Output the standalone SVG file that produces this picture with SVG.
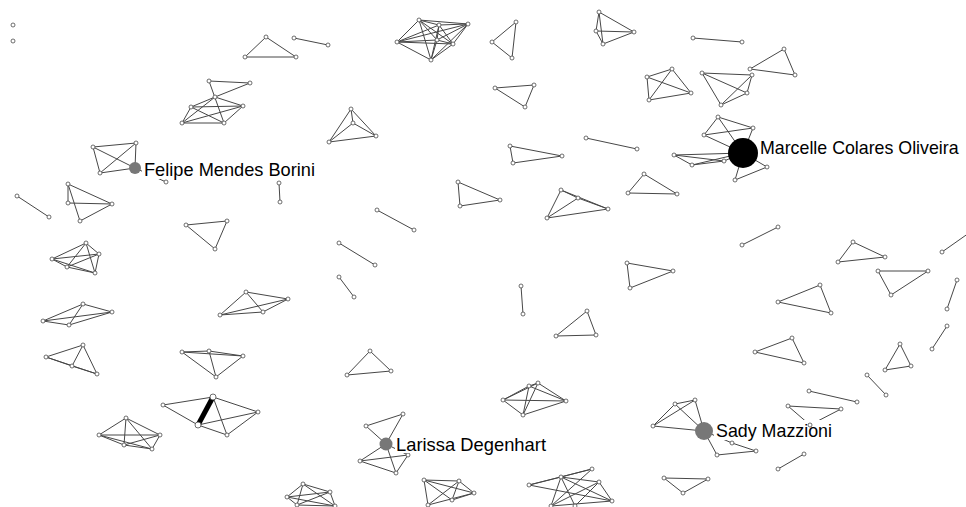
<svg xmlns="http://www.w3.org/2000/svg" width="966" height="507" viewBox="0 0 966 507">
<style>
.bg{fill:#fff}
#edges path{fill:none;stroke:#474747;stroke-width:1}
#edges .thick{stroke:#000;stroke-width:5}
.n circle{fill:#fff;stroke:#4a4a4a;stroke-width:0.8}
.big circle{stroke:none}
.lbl{font-family:"Liberation Sans",Arial,sans-serif;font-size:19px;fill:#000}
.box{fill:#fff}
</style>
<rect class="bg" x="0" y="0" width="966" height="507"/>
<g id="edges">
<path d="M209,81L250,83 M209,81L224,123 M215,97L250,83 M215,97L191,107 M215,97L182,123 M215,97L243,106 M191,107L243,106 M191,107L224,123 M182,123L243,106 M182,123L224,123 M224,123L243,106 M191,107L182,123"/>
<path d="M93,147L136,143 M93,147L135,168 M93,147L100,173 M136,143L100,173 M136,143L135,168 M100,173L135,168 M135,168L166,182"/>
<path d="M266,37L245,57L296,57Z M294,38L328,45"/>
<path d="M419,20L439,25 M419,20L468,24 M419,20L397,42 M419,20L453,44 M419,20L431,60 M419,20L437,40 M439,25L468,24 M439,25L397,42 M439,25L453,44 M439,25L431,60 M439,25L437,40 M468,24L397,42 M468,24L453,44 M468,24L431,60 M468,24L437,40 M397,42L453,44 M397,42L431,60 M397,42L437,40 M453,44L431,60 M453,44L437,40 M431,60L437,40"/>
<path d="M351,109L353,123 M351,109L329,142 M351,109L376,136 M353,123L329,142 M353,123L376,136 M329,142L376,136"/>
<path d="M516,22L492,42L512,58Z"/>
<path d="M599,12L596,31 M599,12L603,44 M599,12L634,32 M596,31L603,44 M596,31L634,32 M603,44L634,32"/>
<path d="M693,38L742,42"/>
<path d="M495,88L534,85L525,107Z"/>
<path d="M647,77L672,69 M647,77L691,93 M647,77L649,100 M672,69L691,93 M672,69L649,100 M691,93L649,100"/>
<path d="M702,73L752,75 M702,73L747,93 M702,73L721,105 M752,75L747,93 M752,75L721,105 M747,93L721,105"/>
<path d="M784,49L750,69L795,75Z"/>
<path d="M510,146L513,163L562,156Z M586,138L637,149"/>
<path d="M718,117L704,135 M718,117L753,128 M704,135L753,128 M704,135L743,153 M718,117L743,153 M753,128L743,153 M674,155L743,153 M674,155L724,161 M692,165L743,153 M692,165L724,161 M674,155L692,165 M767,167L743,153 M735,180L743,153 M735,180L767,167 M724,161L743,153"/>
<path d="M279,183L280,202 M17,196L49,217"/>
<path d="M68,184L112,204 M68,184L68,203 M68,184L80,221 M68,203L112,204 M80,221L112,204"/>
<path d="M186,225L227,221L215,249Z"/>
<path d="M86,243L52,259 M86,243L99,254 M86,243L67,267 M86,243L95,273 M52,259L99,254 M52,259L67,267 M52,259L95,273 M99,254L67,267 M99,254L95,273 M67,267L95,273"/>
<path d="M83,304L43,321 M83,304L112,312 M83,304L69,325 M43,321L112,312 M43,321L69,325 M112,312L69,325"/>
<path d="M220,315L246,292 M220,315L288,299 M220,315L263,312 M246,292L288,299 M246,292L263,312 M288,299L263,312"/>
<path d="M458,182L460,206L500,200Z M377,210L414,230 M339,243L375,265 M339,277L354,297"/>
<path d="M561,190L578,198 M561,190L608,209 M561,190L547,218 M578,198L608,209 M578,198L547,218 M608,209L547,218"/>
<path d="M644,174L628,193L677,194Z M627,263L673,271L630,288Z M521,286L523,314 M587,311L556,336L596,335Z"/>
<path d="M742,245L778,227 M853,242L838,262L885,257Z M878,271L928,271L891,295Z M942,252L969,233 M957,280L947,309 M820,285L778,302L831,313Z M947,326L932,349 M792,338L755,352L804,363Z M900,344L885,370L911,366Z M867,375L886,395 M809,391L857,402 M788,406L841,409 M788,406L810,425 M841,409L810,425 M804,454L778,469"/>
<path d="M83,345L46,357 M83,345L72,366 M83,345L97,374 M46,357L72,366 M72,366L97,374 M46,357L97,374"/>
<path d="M182,352L209,351 M182,352L243,356 M182,352L216,377 M209,351L243,356 M209,351L216,377 M243,356L216,377"/>
<path d="M163,405L213,397 M163,405L198,425 M213,397L258,412 M213,397L227,435 M198,425L258,412 M198,425L227,435 M227,435L258,412"/>
<path class="thick" d="M213,397L198,425"/>
<path d="M126,418L99,435 M126,418L160,435 M126,418L124,445 M126,418L152,449 M99,435L160,435 M99,435L124,445 M99,435L152,449 M160,435L124,445 M160,435L152,449 M124,445L152,449"/>
<path d="M370,351L347,375L391,371Z"/>
<path d="M366,426L403,414 M366,426L386,444 M403,414L386,444 M386,444L360,461 M386,444L408,455 M386,444L396,473 M360,461L408,455 M360,461L396,473 M408,455L396,473"/>
<path d="M303,484L287,497 M303,484L330,492 M303,484L335,506 M303,484L297,505 M287,497L330,492 M287,497L335,506 M287,497L297,505 M330,492L335,506 M330,492L297,505 M335,506L297,505"/>
<path d="M424,480L459,481 M424,480L474,493 M424,480L428,505 M424,480L452,500 M459,481L474,493 M459,481L428,505 M474,493L428,505 M452,500L474,493 M459,481L452,500"/>
<path d="M503,400L566,401 M503,400L529,386 M503,400L538,383 M529,386L566,401 M538,383L566,401 M538,383L523,415 M529,386L523,415 M503,400L523,415 M523,415L566,401 M529,386L538,383"/>
<path d="M529,485L561,477 M529,485L592,469 M529,485L612,501 M561,477L592,469 M561,477L599,482 M561,477L612,501 M561,477L551,506 M561,477L575,506 M592,469L551,506 M599,482L551,506 M599,482L575,506 M599,482L612,501 M551,506L612,501"/>
<path d="M695,400L675,404 M695,400L704,431 M675,404L704,431 M675,404L653,426 M653,426L704,431 M695,400L653,426 M704,431L717,455 M704,431L732,443 M732,443L756,451 M717,455L756,451"/>
<path d="M664,478L708,479L683,493Z"/>
</g>
<g class="n">
<g id="n1"><circle cx="13" cy="25" r="2"/></g>
<g id="n2"><circle cx="13" cy="41" r="2"/></g>
<g id="n3"><circle cx="209" cy="81" r="2"/></g>
<g id="n4"><circle cx="250" cy="83" r="2"/></g>
<g id="n5"><circle cx="215" cy="97" r="2"/></g>
<g id="n6"><circle cx="191" cy="107" r="2"/></g>
<g id="n7"><circle cx="243" cy="106" r="2"/></g>
<g id="n8"><circle cx="182" cy="123" r="2"/></g>
<g id="n9"><circle cx="224" cy="123" r="2"/></g>
<g id="n10"><circle cx="93" cy="147" r="2"/></g>
<g id="n11"><circle cx="136" cy="143" r="2"/></g>
<g id="n12"><circle cx="100" cy="173" r="2"/></g>
<g id="n13"><circle cx="166" cy="182" r="2"/></g>
<g id="n14"><circle cx="266" cy="37" r="2"/></g>
<g id="n15"><circle cx="245" cy="57" r="2"/></g>
<g id="n16"><circle cx="296" cy="57" r="2"/></g>
<g id="n17"><circle cx="294" cy="38" r="2"/></g>
<g id="n18"><circle cx="328" cy="45" r="2"/></g>
<g id="n19"><circle cx="419" cy="20" r="2"/></g>
<g id="n20"><circle cx="439" cy="25" r="2"/></g>
<g id="n21"><circle cx="468" cy="24" r="2"/></g>
<g id="n22"><circle cx="397" cy="42" r="2"/></g>
<g id="n23"><circle cx="453" cy="44" r="2"/></g>
<g id="n24"><circle cx="431" cy="60" r="2"/></g>
<g id="n25"><circle cx="437" cy="40" r="2"/></g>
<g id="n26"><circle cx="351" cy="109" r="2"/></g>
<g id="n27"><circle cx="353" cy="123" r="2"/></g>
<g id="n28"><circle cx="329" cy="142" r="2"/></g>
<g id="n29"><circle cx="376" cy="136" r="2"/></g>
<g id="n30"><circle cx="516" cy="22" r="2"/></g>
<g id="n31"><circle cx="492" cy="42" r="2"/></g>
<g id="n32"><circle cx="512" cy="58" r="2"/></g>
<g id="n33"><circle cx="599" cy="12" r="2"/></g>
<g id="n34"><circle cx="596" cy="31" r="2"/></g>
<g id="n35"><circle cx="603" cy="44" r="2"/></g>
<g id="n36"><circle cx="634" cy="32" r="2"/></g>
<g id="n37"><circle cx="693" cy="38" r="2"/></g>
<g id="n38"><circle cx="742" cy="42" r="2"/></g>
<g id="n39"><circle cx="495" cy="88" r="2"/></g>
<g id="n40"><circle cx="534" cy="85" r="2"/></g>
<g id="n41"><circle cx="525" cy="107" r="2"/></g>
<g id="n42"><circle cx="647" cy="77" r="2"/></g>
<g id="n43"><circle cx="672" cy="69" r="2"/></g>
<g id="n44"><circle cx="691" cy="93" r="2"/></g>
<g id="n45"><circle cx="649" cy="100" r="2"/></g>
<g id="n46"><circle cx="702" cy="73" r="2"/></g>
<g id="n47"><circle cx="752" cy="75" r="2"/></g>
<g id="n48"><circle cx="747" cy="93" r="2"/></g>
<g id="n49"><circle cx="721" cy="105" r="2"/></g>
<g id="n50"><circle cx="784" cy="49" r="2"/></g>
<g id="n51"><circle cx="750" cy="69" r="2"/></g>
<g id="n52"><circle cx="795" cy="75" r="2"/></g>
<g id="n53"><circle cx="510" cy="146" r="2"/></g>
<g id="n54"><circle cx="513" cy="163" r="2"/></g>
<g id="n55"><circle cx="562" cy="156" r="2"/></g>
<g id="n56"><circle cx="586" cy="138" r="2"/></g>
<g id="n57"><circle cx="637" cy="149" r="2"/></g>
<g id="n58"><circle cx="718" cy="117" r="2"/></g>
<g id="n59"><circle cx="704" cy="135" r="2"/></g>
<g id="n60"><circle cx="753" cy="128" r="2"/></g>
<g id="n61"><circle cx="674" cy="155" r="2"/></g>
<g id="n62"><circle cx="692" cy="165" r="2"/></g>
<g id="n63"><circle cx="724" cy="161" r="2"/></g>
<g id="n64"><circle cx="767" cy="167" r="2"/></g>
<g id="n65"><circle cx="735" cy="180" r="2"/></g>
<g id="n66"><circle cx="279" cy="183" r="2"/></g>
<g id="n67"><circle cx="280" cy="202" r="2"/></g>
<g id="n68"><circle cx="17" cy="196" r="2"/></g>
<g id="n69"><circle cx="49" cy="217" r="2"/></g>
<g id="n70"><circle cx="68" cy="184" r="2"/></g>
<g id="n71"><circle cx="68" cy="203" r="2"/></g>
<g id="n72"><circle cx="112" cy="204" r="2"/></g>
<g id="n73"><circle cx="80" cy="221" r="2"/></g>
<g id="n74"><circle cx="186" cy="225" r="2"/></g>
<g id="n75"><circle cx="227" cy="221" r="2"/></g>
<g id="n76"><circle cx="215" cy="249" r="2"/></g>
<g id="n77"><circle cx="86" cy="243" r="2"/></g>
<g id="n78"><circle cx="52" cy="259" r="2"/></g>
<g id="n79"><circle cx="99" cy="254" r="2"/></g>
<g id="n80"><circle cx="67" cy="267" r="2"/></g>
<g id="n81"><circle cx="95" cy="273" r="2"/></g>
<g id="n82"><circle cx="83" cy="304" r="2"/></g>
<g id="n83"><circle cx="43" cy="321" r="2"/></g>
<g id="n84"><circle cx="112" cy="312" r="2"/></g>
<g id="n85"><circle cx="69" cy="325" r="2"/></g>
<g id="n86"><circle cx="220" cy="315" r="2"/></g>
<g id="n87"><circle cx="246" cy="292" r="2"/></g>
<g id="n88"><circle cx="288" cy="299" r="2"/></g>
<g id="n89"><circle cx="263" cy="312" r="2"/></g>
<g id="n90"><circle cx="458" cy="182" r="2"/></g>
<g id="n91"><circle cx="460" cy="206" r="2"/></g>
<g id="n92"><circle cx="500" cy="200" r="2"/></g>
<g id="n93"><circle cx="377" cy="210" r="2"/></g>
<g id="n94"><circle cx="414" cy="230" r="2"/></g>
<g id="n95"><circle cx="339" cy="243" r="2"/></g>
<g id="n96"><circle cx="375" cy="265" r="2"/></g>
<g id="n97"><circle cx="339" cy="277" r="2"/></g>
<g id="n98"><circle cx="354" cy="297" r="2"/></g>
<g id="n99"><circle cx="561" cy="190" r="2"/></g>
<g id="n100"><circle cx="578" cy="198" r="2"/></g>
<g id="n101"><circle cx="608" cy="209" r="2"/></g>
<g id="n102"><circle cx="547" cy="218" r="2"/></g>
<g id="n103"><circle cx="644" cy="174" r="2"/></g>
<g id="n104"><circle cx="628" cy="193" r="2"/></g>
<g id="n105"><circle cx="677" cy="194" r="2"/></g>
<g id="n106"><circle cx="627" cy="263" r="2"/></g>
<g id="n107"><circle cx="673" cy="271" r="2"/></g>
<g id="n108"><circle cx="630" cy="288" r="2"/></g>
<g id="n109"><circle cx="521" cy="286" r="2"/></g>
<g id="n110"><circle cx="523" cy="314" r="2"/></g>
<g id="n111"><circle cx="587" cy="311" r="2"/></g>
<g id="n112"><circle cx="556" cy="336" r="2"/></g>
<g id="n113"><circle cx="596" cy="335" r="2"/></g>
<g id="n114"><circle cx="742" cy="245" r="2"/></g>
<g id="n115"><circle cx="778" cy="227" r="2"/></g>
<g id="n116"><circle cx="853" cy="242" r="2"/></g>
<g id="n117"><circle cx="838" cy="262" r="2"/></g>
<g id="n118"><circle cx="885" cy="257" r="2"/></g>
<g id="n119"><circle cx="878" cy="271" r="2"/></g>
<g id="n120"><circle cx="928" cy="271" r="2"/></g>
<g id="n121"><circle cx="891" cy="295" r="2"/></g>
<g id="n122"><circle cx="942" cy="252" r="2"/></g>
<g id="n123"><circle cx="957" cy="280" r="2"/></g>
<g id="n124"><circle cx="947" cy="309" r="2"/></g>
<g id="n125"><circle cx="820" cy="285" r="2"/></g>
<g id="n126"><circle cx="778" cy="302" r="2"/></g>
<g id="n127"><circle cx="831" cy="313" r="2"/></g>
<g id="n128"><circle cx="947" cy="326" r="2"/></g>
<g id="n129"><circle cx="932" cy="349" r="2"/></g>
<g id="n130"><circle cx="792" cy="338" r="2"/></g>
<g id="n131"><circle cx="755" cy="352" r="2"/></g>
<g id="n132"><circle cx="804" cy="363" r="2"/></g>
<g id="n133"><circle cx="900" cy="344" r="2"/></g>
<g id="n134"><circle cx="885" cy="370" r="2"/></g>
<g id="n135"><circle cx="911" cy="366" r="2"/></g>
<g id="n136"><circle cx="867" cy="375" r="2"/></g>
<g id="n137"><circle cx="886" cy="395" r="2"/></g>
<g id="n138"><circle cx="809" cy="391" r="2"/></g>
<g id="n139"><circle cx="857" cy="402" r="2"/></g>
<g id="n140"><circle cx="788" cy="406" r="2"/></g>
<g id="n141"><circle cx="841" cy="409" r="2"/></g>
<g id="n142"><circle cx="804" cy="454" r="2"/></g>
<g id="n143"><circle cx="778" cy="469" r="2"/></g>
<g id="n144"><circle cx="83" cy="345" r="2"/></g>
<g id="n145"><circle cx="46" cy="357" r="2"/></g>
<g id="n146"><circle cx="72" cy="366" r="2"/></g>
<g id="n147"><circle cx="97" cy="374" r="2"/></g>
<g id="n148"><circle cx="182" cy="352" r="2"/></g>
<g id="n149"><circle cx="209" cy="351" r="2"/></g>
<g id="n150"><circle cx="243" cy="356" r="2"/></g>
<g id="n151"><circle cx="216" cy="377" r="2"/></g>
<g id="n152"><circle cx="163" cy="405" r="2"/></g>
<g id="n153"><circle cx="213" cy="397" r="3"/></g>
<g id="n154"><circle cx="198" cy="425" r="3"/></g>
<g id="n155"><circle cx="227" cy="435" r="2"/></g>
<g id="n156"><circle cx="258" cy="412" r="2"/></g>
<g id="n157"><circle cx="126" cy="418" r="2"/></g>
<g id="n158"><circle cx="99" cy="435" r="2"/></g>
<g id="n159"><circle cx="160" cy="435" r="2"/></g>
<g id="n160"><circle cx="124" cy="445" r="2"/></g>
<g id="n161"><circle cx="152" cy="449" r="2"/></g>
<g id="n162"><circle cx="370" cy="351" r="2"/></g>
<g id="n163"><circle cx="347" cy="375" r="2"/></g>
<g id="n164"><circle cx="391" cy="371" r="2"/></g>
<g id="n165"><circle cx="366" cy="426" r="2"/></g>
<g id="n166"><circle cx="403" cy="414" r="2"/></g>
<g id="n167"><circle cx="360" cy="461" r="2"/></g>
<g id="n168"><circle cx="408" cy="455" r="2"/></g>
<g id="n169"><circle cx="396" cy="473" r="2"/></g>
<g id="n170"><circle cx="303" cy="484" r="2"/></g>
<g id="n171"><circle cx="287" cy="497" r="2"/></g>
<g id="n172"><circle cx="330" cy="492" r="2"/></g>
<g id="n173"><circle cx="335" cy="506" r="2"/></g>
<g id="n174"><circle cx="297" cy="505" r="2"/></g>
<g id="n175"><circle cx="424" cy="480" r="2"/></g>
<g id="n176"><circle cx="459" cy="481" r="2"/></g>
<g id="n177"><circle cx="474" cy="493" r="2"/></g>
<g id="n178"><circle cx="428" cy="505" r="2"/></g>
<g id="n179"><circle cx="452" cy="500" r="2"/></g>
<g id="n180"><circle cx="538" cy="383" r="2"/></g>
<g id="n181"><circle cx="529" cy="386" r="2"/></g>
<g id="n182"><circle cx="503" cy="400" r="2"/></g>
<g id="n183"><circle cx="566" cy="401" r="2"/></g>
<g id="n184"><circle cx="523" cy="415" r="2"/></g>
<g id="n185"><circle cx="592" cy="469" r="2"/></g>
<g id="n186"><circle cx="529" cy="485" r="2"/></g>
<g id="n187"><circle cx="561" cy="477" r="2"/></g>
<g id="n188"><circle cx="599" cy="482" r="2"/></g>
<g id="n189"><circle cx="612" cy="501" r="2"/></g>
<g id="n190"><circle cx="551" cy="506" r="2"/></g>
<g id="n191"><circle cx="575" cy="506" r="2"/></g>
<g id="n192"><circle cx="695" cy="400" r="2"/></g>
<g id="n193"><circle cx="675" cy="404" r="2"/></g>
<g id="n194"><circle cx="653" cy="426" r="2"/></g>
<g id="n195"><circle cx="732" cy="443" r="2"/></g>
<g id="n196"><circle cx="756" cy="451" r="2"/></g>
<g id="n197"><circle cx="717" cy="455" r="2"/></g>
<g id="n198"><circle cx="664" cy="478" r="2"/></g>
<g id="n199"><circle cx="708" cy="479" r="2"/></g>
<g id="n200"><circle cx="683" cy="493" r="2"/></g>
</g>
<g id="marcelle" class="big">
<circle cx="743" cy="153" r="15" fill="#000"/>
<rect class="box" x="759" y="137" width="205" height="20"/>
<text class="lbl" x="760" y="154" style="font-size:17.8px">Marcelle Colares Oliveira</text>
</g>
<g id="felipe" class="big">
<circle cx="135" cy="168" r="6" fill="#777"/>
<rect class="box" x="142" y="159" width="175" height="20"/>
<text class="lbl" x="144" y="176" textLength="171" lengthAdjust="spacingAndGlyphs">Felipe Mendes Borini</text>
</g>
<g id="larissa" class="big">
<circle cx="386" cy="444" r="6.5" fill="#777"/>
<rect class="box" x="395" y="434" width="153" height="19"/>
<text class="lbl" x="396" y="451" textLength="150" lengthAdjust="spacingAndGlyphs">Larissa Degenhart</text>
</g>
<g id="sady" class="big">
<circle cx="704" cy="431" r="9" fill="#777"/>
<rect class="box" x="714" y="420" width="120" height="20"/>
<text class="lbl" x="716" y="437" textLength="116" lengthAdjust="spacingAndGlyphs">Sady Mazzioni</text>
</g>
<g class="n">
<g id="n201"><circle cx="810" cy="425" r="2"/></g>
</g>
</svg>
